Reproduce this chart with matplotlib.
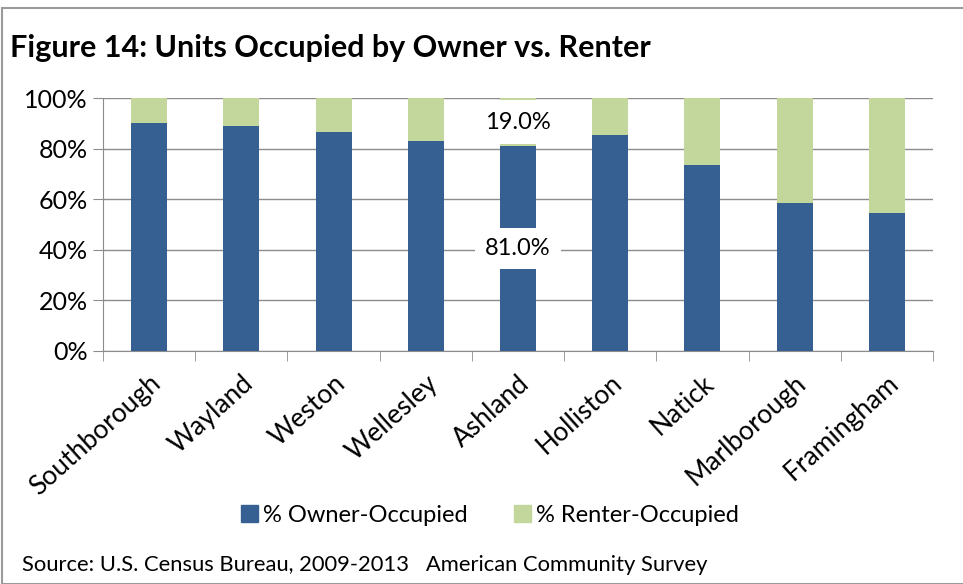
import numpy as np
import matplotlib.pyplot as plt
from matplotlib.patches import Rectangle, Patch
from matplotlib.ticker import FixedLocator, PercentFormatter

# ── Data ─────────────────────────────────────────────────────────────────────
towns  = ["Southborough", "Wayland", "Weston", "Wellesley", "Ashland",
          "Holliston", "Natick", "Marlborough", "Framingham"]
owner  = [90.2, 89.0, 86.6, 83.2, 81.0, 85.2, 73.4, 58.6, 54.6]
renter = [round(100 - v, 1) for v in owner]

BLUE  = "#366092"
GREEN = "#c3d69b"
GRAY  = "#8c8c8c"
plt.rcParams["font.family"] = ["Lato", "DejaVu Sans"]

fig = plt.figure(figsize=(9.63, 5.84), dpi=100)
ax = fig.add_axes([103 / 963, 1 - 351 / 584, 830 / 963, 253 / 584])

x = np.arange(len(towns))
ax.bar(x, owner, width=0.39, color=BLUE, zorder=3)
ax.bar(x, renter, width=0.39, bottom=owner, color=GREEN, zorder=3)

# data labels on Ashland only
i = towns.index("Ashland")
ax.text(i, owner[i] + renter[i] / 2, f"{renter[i]:.1f}%", ha="center", va="center",
        fontsize=17, zorder=5,
        bbox=dict(boxstyle="square,pad=0.5", fc="white", ec="none"))
ax.text(i, owner[i] / 2, f"{owner[i]:.1f}%", ha="center", va="center",
        fontsize=17, zorder=5,
        bbox=dict(boxstyle="square,pad=0.42", fc="white", ec="none"))

ax.set_xlim(-0.5, len(towns) - 0.5)
ax.set_ylim(0, 100)
ax.set_yticks(range(0, 101, 20))
ax.yaxis.set_major_formatter(PercentFormatter(decimals=0))
ax.grid(True, axis="y", color=GRAY, linewidth=1, zorder=0)

ax.set_xticks(x)
ax.set_xticklabels(towns, rotation=42, ha="right", rotation_mode="anchor", fontsize=19)
ax.tick_params(axis="x", length=0, pad=14)
ax.xaxis.set_minor_locator(FixedLocator(np.arange(-0.5, len(towns), 1)))
ax.tick_params(axis="x", which="minor", length=7, color=GRAY)
ax.tick_params(axis="y", labelsize=18, length=7, color=GRAY, pad=4)

for s in ["top", "right"]:
    ax.spines[s].set_visible(False)
for s in ["left", "bottom"]:
    ax.spines[s].set_color(GRAY)

fig.text(10 / 963, 1 - 48 / 584, "Figure 14: Units Occupied by Owner vs. Renter",
         fontsize=22, fontweight="bold", va="center", ha="left")

handles = [Patch(color=BLUE, label="% Owner-Occupied"),
           Patch(color=GREEN, label="% Renter-Occupied")]
fig.legend(handles=handles, loc="center", bbox_to_anchor=(490 / 963, 1 - 515 / 584),
           ncol=2, frameon=False, fontsize=17, handlelength=0.7, handleheight=0.7,
           handletextpad=0.2, columnspacing=2.0)

fig.text(22 / 963, 1 - 565 / 584, "Source: U.S. Census Bureau, 2009-2013   American Community Survey",
         fontsize=15.8, va="center", ha="left")

# outer frame
fig.patches.append(Rectangle((2 / 963, 0), 1, 1 - 8 / 584, transform=fig.transFigure,
                             fill=False, ec="#9a9a9a", lw=1.5))

plt.savefig("out.png", dpi=100)
